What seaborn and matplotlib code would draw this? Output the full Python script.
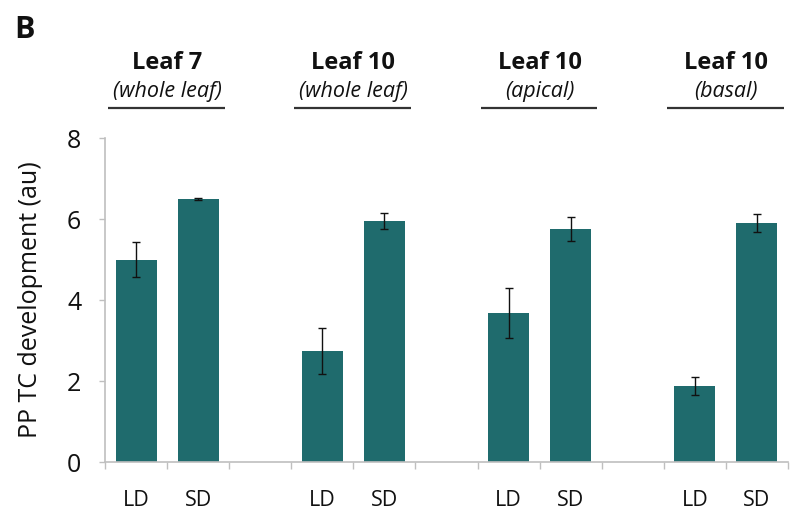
import matplotlib
matplotlib.use("Agg")
import matplotlib.pyplot as plt
import matplotlib.transforms as mtransforms
from matplotlib.ticker import FixedLocator
import numpy as np
import pandas as pd
import seaborn as sns

# Sample groups and the two photoperiod conditions
group_titles = ["Leaf 7", "Leaf 10", "Leaf 10", "Leaf 10"]
group_subtitles = ["(whole leaf)", "(whole leaf)", "(apical)", "(basal)"]
conditions = ["LD", "SD"]

# Mean PP TC development score and error per group
ld_mean = [5.0, 2.75, 3.67, 1.88]
sd_mean = [6.5, 5.95, 5.76, 5.91]
ld_err = [0.43, 0.57, 0.62, 0.23]
sd_err = [0.03, 0.20, 0.30, 0.22]

y_ticks = [0, 2, 4, 6, 8]
y_label = "PP TC development (au)"
panel_label = "B"

BAR_COLOR = "#1f6b6d"
AXIS_GRAY = "#bfbfbf"
FONT = "Open Sans"

sns.set_theme(style="white")
plt.rcParams["font.family"] = [FONT, "DejaVu Sans"]

# Long table: one row per bar, with spacer slots between groups
rows = []
order = []
for g in range(len(group_titles)):
    for cond, means, errs in ((conditions[0], ld_mean, ld_err),
                              (conditions[1], sd_mean, sd_err)):
        key = f"g{g}_{cond}"
        rows.append({"slot": key, "cond": cond,
                     "value": means[g], "err": errs[g]})
        order.append(key)
    if g < len(group_titles) - 1:
        order.append(f"gap{g}")
df = pd.DataFrame(rows)

fig = plt.figure(figsize=(7.97, 5.15), dpi=100)
ax = fig.add_axes([0.1317, 0.1029, 0.8570, 0.6291])

sns.barplot(data=df, x="slot", y="value", order=order, color=BAR_COLOR,
            saturation=1, width=0.66, errorbar=None, ax=ax,
            edgecolor="none")

xpos = [order.index(s) for s in df["slot"]]
ax.errorbar(xpos, df["value"], yerr=df["err"], fmt="none", ecolor="#111111",
            elinewidth=1.0, capsize=3.2, capthick=1.0, zorder=5)

ax.set_xlim(-0.5, len(order) - 0.5)
ax.set_ylim(0, 8)
ax.set_yticks(y_ticks)
ax.set_yticklabels([str(t) for t in y_ticks], fontsize=18, color="#111111")

labels = []
for s in order:
    labels.append(s.split("_")[1] if "_" in s else "")
ax.set_xticks(range(len(order)))
ax.set_xticklabels(labels, fontsize=15.5, color="#111111")
ax.xaxis.set_minor_locator(FixedLocator(np.arange(-0.5, len(order), 1.0)))
ax.tick_params(axis="x", which="major", length=0, pad=20)
ax.tick_params(axis="x", which="minor", length=5, width=1, color=AXIS_GRAY,
               direction="out", bottom=True)
ax.tick_params(axis="y", which="major", length=4, width=1, color=AXIS_GRAY,
               direction="out", left=True, pad=13)

ax.set_ylabel(y_label, fontsize=18, color="#111111", labelpad=17)
ax.set_xlabel("")

for side in ("top", "right"):
    ax.spines[side].set_visible(False)
for side in ("left", "bottom"):
    ax.spines[side].set_color(AXIS_GRAY)
    ax.spines[side].set_linewidth(1.2)

# Group headers above the plot: bold title, italic subtitle, rule
trans = mtransforms.blended_transform_factory(ax.transData, ax.transAxes)
for g in range(len(group_titles)):
    left = order.index(f"g{g}_LD")
    cx = left + 0.5
    ax.text(cx, 1.213, group_titles[g], transform=trans, ha="center",
            va="baseline", fontsize=17, fontweight="bold", color="#111111",
            clip_on=False)
    ax.text(cx, 1.127, group_subtitles[g], transform=trans, ha="center",
            va="baseline", fontsize=15.5, fontstyle="italic", color="#111111",
            clip_on=False)
    ax.plot([left - 0.45, left + 1.43], [1.093, 1.093], transform=trans,
            color="#333333", linewidth=1.6, clip_on=False,
            solid_capstyle="butt")

fig.text(0.018, 0.926, panel_label, fontsize=22, fontweight="bold",
         color="#111111", ha="left", va="baseline")

fig.savefig("out.png", dpi=100)
